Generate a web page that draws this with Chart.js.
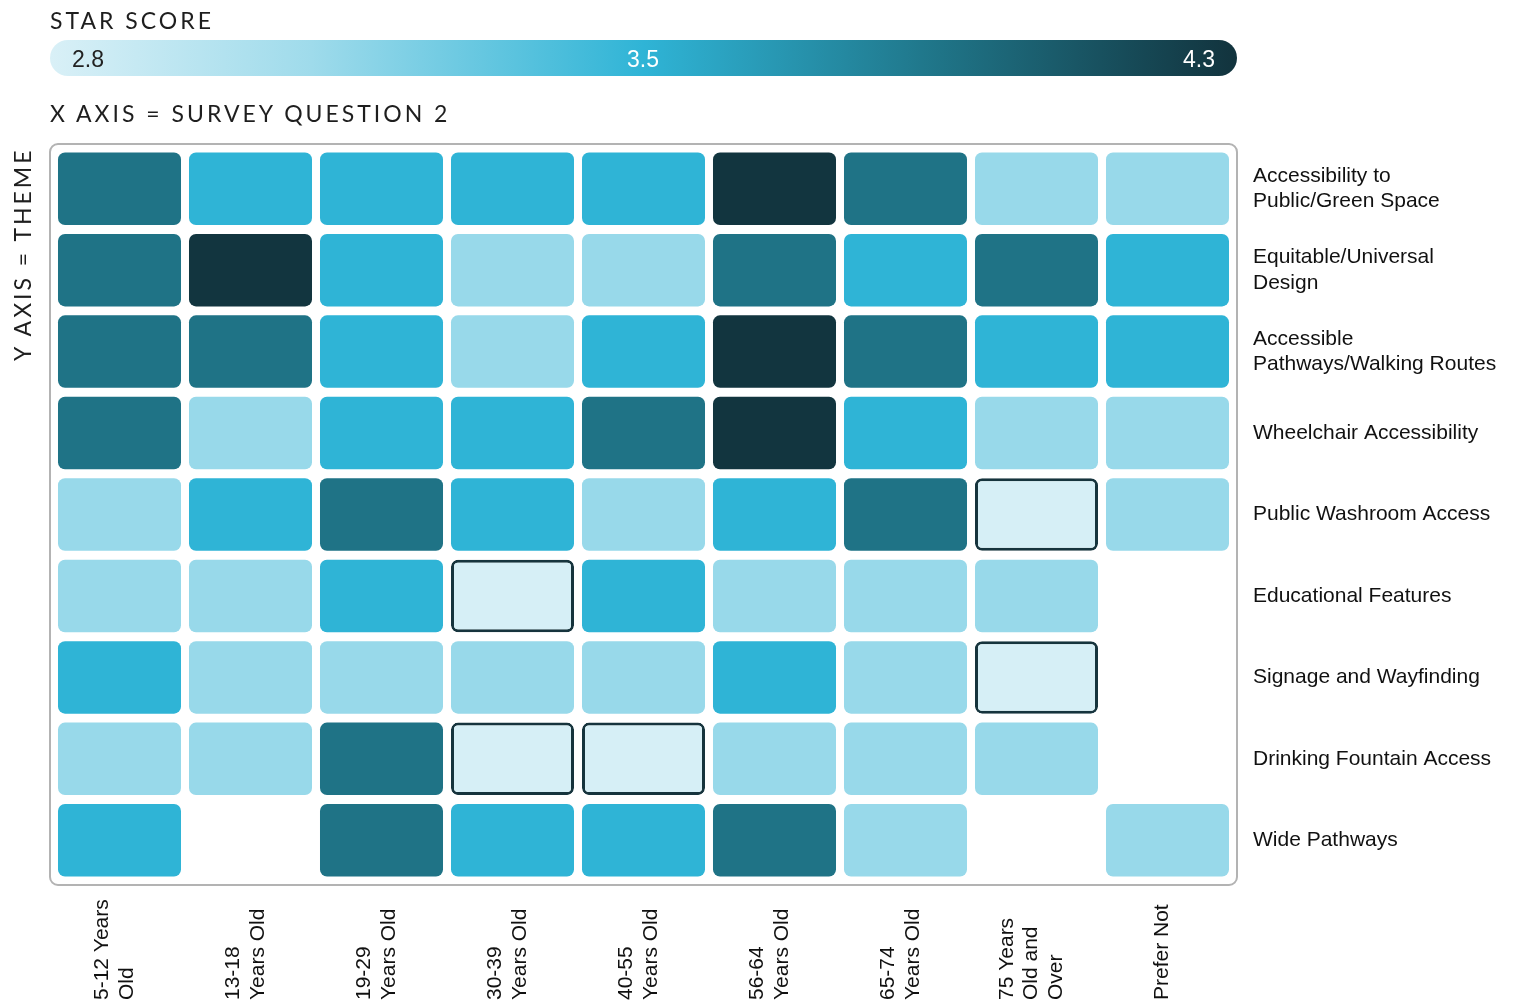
<!DOCTYPE html>
<html>
<head>
<meta charset="utf-8">
<script src="https://cdn.jsdelivr.net/npm/chart.js@4"></script>
<style>
  body { margin: 0; overflow: hidden; background: #fff; font-family: "Liberation Sans", Arial, sans-serif; }
  #wrap { position: relative; width: 1519px; height: 1005px; }
  #chart { position: absolute; left: 0; top: 0; }
  .cap { position: absolute; font-family: Lato, sans-serif; font-size: 23px; letter-spacing: 3px; color: #1e1e1e; white-space: nowrap; }
  #scale { position: absolute; left: 50px; top: 40px; width: 1187px; height: 36px; border-radius: 18px;
    background: linear-gradient(to right, #d9f0f7 0%, #9fdbeb 22%, #2fb4d6 50%, #1f7487 75%, #12333d 100%); }
  .tick { position: absolute; top: 6px; font-family: "Liberation Sans Narrow", "Liberation Sans", sans-serif; font-size: 23px; }
</style>
</head>
<body>
<div id="wrap">
  <canvas id="chart" width="1519" height="1005"></canvas>
  <div class="cap" style="left:50px; top:6px;">STAR SCORE</div>
  <div id="scale">
    <span class="tick" style="left:22px; color:#222;">2.8</span>
    <span class="tick" style="left:577px; color:#fff;">3.5</span>
    <span class="tick" style="right:22px; color:#fff;">4.3</span>
  </div>
  <div class="cap" style="left:50px; top:99px;">X AXIS = SURVEY QUESTION 2</div>
  <div class="cap" style="left:20px; top:145px; transform-origin: 0 0; transform: translate(-12px, 216px) rotate(-90deg);">Y AXIS = THEME</div>
</div>
<script>
// columns: survey question 2 (age group)
var ageGroups = [
    ['5-12 Years', 'Old'],
    ['13-18', 'Years Old'],
    ['19-29', 'Years Old'],
    ['30-39', 'Years Old'],
    ['40-55', 'Years Old'],
    ['56-64', 'Years Old'],
    ['65-74', 'Years Old'],
    ['75 Years', 'Old and', 'Over'],
    ['Prefer Not']
]

// rows: theme
var themes = [
    ['Accessibility to', 'Public/Green Space'],
    ['Equitable/Universal', 'Design'],
    ['Accessible', 'Pathways/Walking Routes'],
    'Wheelchair Accessibility',
    'Public Washroom Access',
    'Educational Features',
    'Signage and Wayfinding',
    'Drinking Fountain Access',
    'Wide Pathways'
]

// star scores, one array per theme (null = no answer)
var scoreGreenSpace   = [3.9, 3.5, 3.5, 3.5, 3.5, 4.3, 3.9, 3.1, 3.1]
var scoreUniversal    = [3.9, 4.3, 3.5, 3.1, 3.1, 3.9, 3.5, 3.9, 3.5]
var scorePathways     = [3.9, 3.9, 3.5, 3.1, 3.5, 4.3, 3.9, 3.5, 3.5]
var scoreWheelchair   = [3.9, 3.1, 3.5, 3.5, 3.9, 4.3, 3.5, 3.1, 3.1]
var scoreWashroom     = [3.1, 3.5, 3.9, 3.5, 3.1, 3.5, 3.9, 2.8, 3.1]
var scoreEducational  = [3.1, 3.1, 3.5, 2.8, 3.5, 3.1, 3.1, 3.1, null]
var scoreSignage      = [3.5, 3.1, 3.1, 3.1, 3.1, 3.5, 3.1, 2.8, null]
var scoreFountain     = [3.1, 3.1, 3.9, 2.8, 2.8, 3.1, 3.1, 3.1, null]
var scoreWide         = [3.5, null, 3.9, 3.5, 3.5, 3.9, 3.1, null, 3.1]

var scoreRows = [scoreGreenSpace, scoreUniversal, scorePathways, scoreWheelchair, scoreWashroom,
    scoreEducational, scoreSignage, scoreFountain, scoreWide]

function cellColor(s) {
    if (s >= 4.2) return '#12353f'
    if (s >= 3.8) return '#1f7386'
    if (s >= 3.4) return '#2fb4d6'
    if (s >= 3.0) return '#98d9ea'
    return '#d6eff6'
}

var datasets = scoreRows.map(function (row, r) {
    return {
        label: Array.isArray(themes[r]) ? themes[r].join(' ') : themes[r],
        data: row.map(function (s) { return s == null ? null : [r + 0.055, r + 0.945] }),
        backgroundColor: row.map(function (s) { return s == null ? 'transparent' : cellColor(s) }),
        borderColor: '#16343d',
        borderWidth: row.map(function (s) { return s != null && s < 3.0 ? 3 : 0 }),
        borderRadius: 7,
        borderSkipped: false,
        grouped: false,
        barPercentage: 0.939,
        categoryPercentage: 1
    }
})

var plotFrame = {
    id: 'plotFrame',
    beforeDraw: function (chart) {
        var a = chart.chartArea, ctx = chart.ctx
        ctx.save()
        ctx.strokeStyle = '#b3b3b3'
        ctx.lineWidth = 2
        ctx.beginPath()
        ctx.roundRect(a.left - 4, a.top - 4, a.right - a.left + 8, a.bottom - a.top + 8, 8)
        ctx.stroke()
        ctx.restore()
    }
}

// age labels read bottom to top, lined up on the bottom edge
var ageLabels = {
    id: 'ageLabels',
    afterDraw: function (chart) {
        var x = chart.scales.x, ctx = chart.ctx
        ctx.save()
        ctx.fillStyle = '#111'
        ctx.font = '21px "Liberation Sans", Arial, sans-serif'
        ctx.textAlign = 'left'
        ctx.textBaseline = 'middle'
        ageGroups.forEach(function (lines, i) {
            var px = x.getPixelForValue(i) - 5
            lines.forEach(function (t, j) {
                ctx.save()
                ctx.translate(px + (j - (lines.length - 1) / 2) * 24.5, 1000)
                ctx.rotate(-Math.PI / 2)
                ctx.fillText(t, 0, 0)
                ctx.restore()
            })
        })
        ctx.restore()
    }
}

new Chart(document.getElementById('chart'), {
    type: 'bar',
    data: {
        labels: ageGroups.map(function (l) { return l.join(' ') }),
        datasets: datasets
    },
    options: {
        responsive: false,
        animation: false,
        layout: { padding: { left: 54, top: 148, right: 0, bottom: 0 } },
        plugins: { legend: { display: false }, tooltip: { enabled: false } },
        scales: {
            x: {
                grid: { display: false },
                border: { display: false },
                ticks: { display: false },
                afterFit: function (s) { s.height = 124 }
            },
            y: {
                position: 'right',
                reverse: true,
                min: 0,
                max: 9,
                grid: { display: false, drawTicks: false },
                border: { display: false },
                afterBuildTicks: function (s) {
                    s.ticks = themes.map(function (t, i) { return { value: i + 0.5 } })
                },
                afterFit: function (s) { s.width = 286 },
                ticks: {
                    autoSkip: false,
                    padding: 20,
                    color: '#111',
                    font: { family: '"Liberation Sans", Arial, sans-serif', size: 21, lineHeight: 1.2 },
                    callback: function (v, i) { return themes[i] }
                }
            }
        }
    },
    plugins: [plotFrame, ageLabels]
})
</script>
</body>
</html>
